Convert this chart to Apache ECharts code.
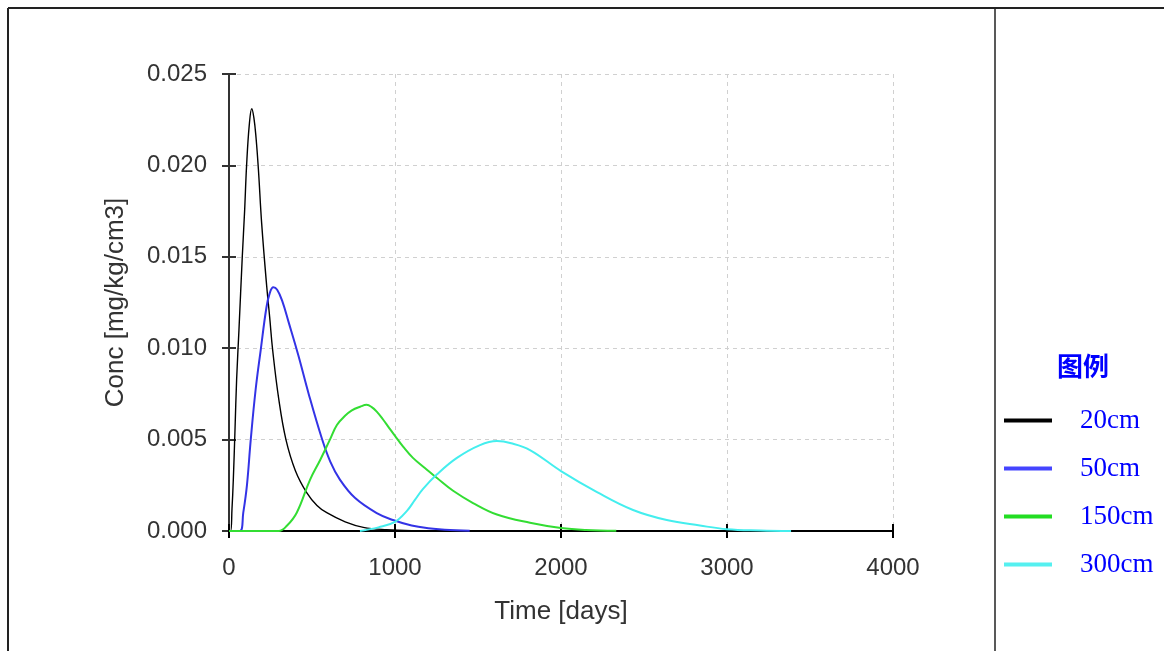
<!DOCTYPE html>
<html>
<head>
<meta charset="utf-8">
<script src="https://cdn.jsdelivr.net/npm/echarts@6/dist/echarts.min.js"></script>
<style>
  html, body { margin: 0; padding: 0; background: #fff; }
  #chart { width: 1164px; height: 651px; }
</style>
</head>
<body>
<div id="chart"></div>
<script>
// --- data (time in days, conc in mg/kg/cm3) ---
const seriesNames = ['20cm', '50cm', '150cm', '300cm'];
const seriesColors = ['#000000', '#3333e6', '#33dd33', '#44eeee'];
const legendColors = ['#000000', '#4444ff', '#22dd22', '#55f0f0'];

const t20 = [0, 10, 18, 26, 36, 46, 60, 80, 94, 106, 122, 137, 150, 163, 177, 197, 227, 245, 263, 300, 343, 400, 468, 530, 589, 700, 809, 950, 1100];
const c20 = [0, 0, 0.0012, 0.0028, 0.0055, 0.0083, 0.011, 0.015, 0.0175, 0.020, 0.0222, 0.0231, 0.0226, 0.0215, 0.0198, 0.0168, 0.0134, 0.0117, 0.0099, 0.0072, 0.005, 0.0033, 0.0021, 0.0014, 0.0010, 0.0005, 0.0002, 0.00007, 0.00002];

const t50 = [0, 66, 86, 108, 131, 160, 191, 225, 245, 267, 290, 320, 360, 418, 480, 558, 610, 669, 760, 890, 988, 1100, 1200, 1300, 1450];
const c50 = [0, 0, 0.001, 0.0025, 0.005, 0.0077, 0.0099, 0.0122, 0.0130, 0.01333, 0.0132, 0.0126, 0.0114, 0.0096, 0.0075, 0.0051, 0.0038, 0.0028, 0.0018, 0.00098, 0.0006, 0.0003, 0.00015, 0.00007, 0.00002];

const t150 = [0, 300, 350, 408, 488, 550, 608, 650, 699, 740, 790, 829, 860, 890, 928, 960, 1000, 1050, 1108, 1180, 1253, 1350, 1470, 1614, 1813, 2000, 2150, 2333];
const c150 = [0, 0, 0.0003, 0.001, 0.0028, 0.0039, 0.005, 0.0058, 0.0063, 0.0066, 0.0068, 0.0069, 0.00678, 0.00653, 0.0061, 0.0057, 0.0052, 0.0046, 0.0040, 0.00345, 0.0029, 0.0022, 0.00153, 0.0009, 0.00045, 0.00016, 0.00005, 0.00001];

const t300 = [789, 900, 1000, 1072, 1120, 1169, 1253, 1373, 1512, 1614, 1700, 1813, 2000, 2217, 2434, 2637, 2837, 3000, 3200, 3386];
const c300 = [0, 0.0002, 0.0005, 0.0011, 0.0017, 0.0023, 0.0031, 0.0040, 0.0047, 0.00492, 0.0048, 0.00443, 0.00328, 0.00213, 0.00115, 0.0006, 0.0003, 0.0001, 0.00003, 0];

const xTicks = { min: 0, max: 4000, interval: 1000 };
const yTicks = { min: 0, max: 0.025, interval: 0.005 };

const times = [t20, t50, t150, t300];
const concs = [c20, c50, c150, c300];

function zip(t, c) {
  return t.map((v, i) => [v, c[i]]);
}

const labelFont = 'Arial, "Liberation Sans", sans-serif';

const chart = echarts.init(document.getElementById('chart'));

const series = seriesNames.map((name, i) => ({
  name,
  type: 'line',
  xAxisIndex: 0,
  yAxisIndex: 0,
  data: zip(times[i], concs[i]),
  showSymbol: false,
  smooth: 0.4,
  color: legendColors[i],
  lineStyle: { color: seriesColors[i], width: i === 0 ? 1.4 : 2 },
  itemStyle: { color: legendColors[i] },
  z: 3,
}));

chart.setOption({
  animation: false,
  title: {
    text: '图例',
    left: 1052,
    top: 348,
    textStyle: {
      color: '#0000ff',
      fontSize: 26,
      fontWeight: 'bold',
      fontFamily: '"Noto Sans CJK SC", sans-serif',
    },
  },
  legend: {
    orient: 'vertical',
    left: 1004,
    top: 407,
    padding: 0,
    icon: 'rect',
    itemWidth: 48,
    itemHeight: 4,
    itemGap: 21,
    selectedMode: false,
    data: seriesNames.map((name, i) => ({ name, itemStyle: { color: legendColors[i] } })),
    textStyle: {
      color: '#0000ff',
      fontSize: 27,
      fontFamily: '"Liberation Serif", "Times New Roman", serif',
      padding: [0, 0, 0, 23],
    },
  },
  grid: { left: 229, right: 271, top: 74, bottom: 120 },
  xAxis: [
    {
      type: 'value',
      ...xTicks,
      name: 'Time [days]',
      nameLocation: 'middle',
      nameGap: 68,
      nameTextStyle: { color: '#333', fontSize: 26, fontFamily: labelFont },
      axisLine: { show: true, lineStyle: { color: '#000', width: 2 } },
      axisTick: { show: true, length: 7, lineStyle: { color: '#000', width: 2 } },
      axisLabel: {
        color: '#333',
        fontSize: 24,
        fontFamily: labelFont,
        margin: 25,
        formatter: (v) => String(v),
      },
      splitLine: { show: true, lineStyle: { color: '#d0d0d0', type: [4, 4], width: 1 } },
    },
    {
      type: 'value',
      ...xTicks,
      position: 'bottom',
      axisLine: { show: false },
      axisTick: { show: true, inside: true, length: 7, lineStyle: { color: '#000', width: 2 } },
      axisLabel: { show: false },
      splitLine: { show: false },
    },
  ],
  yAxis: [
    {
      type: 'value',
      ...yTicks,
      name: 'Conc [mg/kg/cm3]',
      nameLocation: 'middle',
      nameGap: 100,
      nameTextStyle: { color: '#333', fontSize: 26, fontFamily: labelFont },
      axisLine: { show: true, lineStyle: { color: '#333', width: 2 } },
      axisTick: { show: true, length: 7, lineStyle: { color: '#333', width: 2 } },
      axisLabel: {
        color: '#333',
        fontSize: 24,
        fontFamily: labelFont,
        margin: 22,
        formatter: (v) => v.toFixed(3),
      },
      splitLine: { show: true, lineStyle: { color: '#d0d0d0', type: [4, 4], width: 1 } },
    },
    {
      type: 'value',
      ...yTicks,
      position: 'left',
      axisLine: { show: false },
      axisTick: { show: true, inside: true, length: 7, lineStyle: { color: '#333', width: 2 } },
      axisLabel: { show: false },
      splitLine: { show: false },
    },
  ],
  // table frame around the chart and the legend column
  graphic: [
    { type: 'line', shape: { x1: 8, y1: 8, x2: 1164, y2: 8 }, style: { stroke: '#222', lineWidth: 2 } },
    { type: 'line', shape: { x1: 8, y1: 8, x2: 8, y2: 651 }, style: { stroke: '#222', lineWidth: 2 } },
    { type: 'line', shape: { x1: 995, y1: 8, x2: 995, y2: 651 }, style: { stroke: '#222', lineWidth: 1.5 } },
  ],
  series,
});
</script>
</body>
</html>
